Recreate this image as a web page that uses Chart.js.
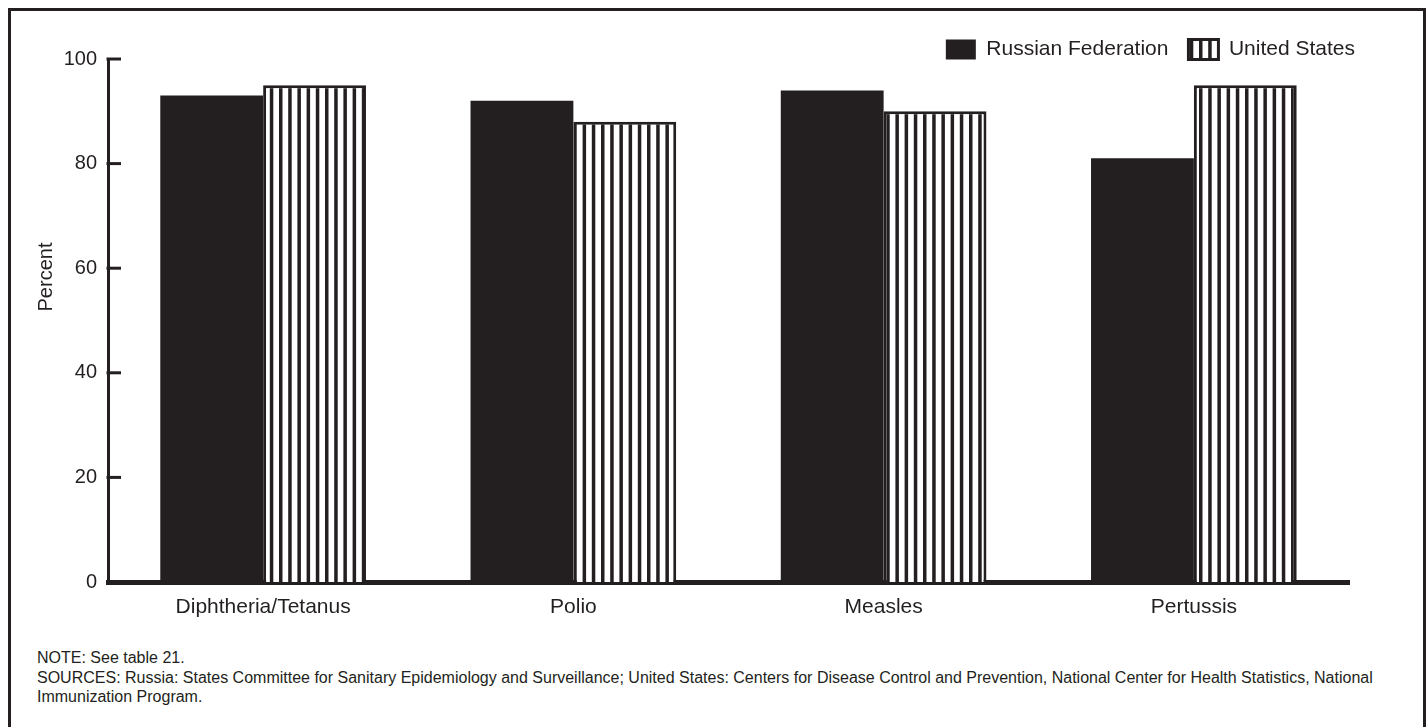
<!DOCTYPE html>
<html><head><meta charset="utf-8">
<script src="https://cdn.jsdelivr.net/npm/chart.js@4.4.0/dist/chart.umd.min.js"></script>
<style>
html,body{margin:0;padding:0;background:#fff;width:1427px;height:727px;overflow:hidden;}
#wrap{position:absolute;left:0;top:0;width:1427px;height:640px;}
#frame{position:absolute;left:8px;top:8px;width:1418px;height:800px;border:3px solid #231f20;box-sizing:border-box;pointer-events:none;}
#ytitle{position:absolute;left:45px;top:277px;transform:translate(-50%,-50%) rotate(-90deg);font:20px 'Liberation Sans',Arial,sans-serif;color:#231f20;white-space:nowrap;}
#notes{position:absolute;left:37px;top:648px;font:16px/19.5px 'Liberation Sans',Arial,sans-serif;color:#231f20;white-space:nowrap;}
</style></head><body>
<div id="wrap"><canvas id="c" width="1427" height="640"></canvas></div>
<div id="ytitle">Percent</div>
<div id="notes">NOTE: See table 21.<br>SOURCES: Russia: States Committee for Sanitary Epidemiology and Surveillance; United States: Centers for Disease Control and Prevention, National Center for Health Statistics, National<br>Immunization Program.</div>
<div id="frame"></div>
<script>
const categories = ['Diphtheria/Tetanus', 'Polio', 'Measles', 'Pertussis'];
const russiaValues = [93, 92, 94, 81];
const usValues = [95, 88, 90, 95];
const seriesNames = ['Russian Federation', 'United States'];
const yTicks = [0, 20, 40, 60, 80, 100];

const INK = '#231f20';

function stripePattern() {
  const p = document.createElement('canvas');
  p.width = 46; p.height = 8;
  const g = p.getContext('2d');
  g.fillStyle = '#fff'; g.fillRect(0, 0, 46, 8);
  g.fillStyle = INK;
  for (let i = 0; i < 5; i++) g.fillRect(i * 9.2 + 3, 0, 3.5, 8);
  return g.createPattern(p, 'repeat');
}

const innerTicks = {
  id: 'innerTicks',
  afterDatasetsDraw(chart) {
    const y = chart.scales.y, a = chart.chartArea, ctx = chart.ctx;
    ctx.save();
    ctx.strokeStyle = INK; ctx.lineWidth = 3;
    y.ticks.forEach(t => {
      if (t.value === 0) return;
      const py = y.getPixelForValue(t.value);
      ctx.beginPath(); ctx.moveTo(a.left - 1.5, py); ctx.lineTo(a.left + 13, py); ctx.stroke();
    });
    ctx.restore();
  }
};

const legendNudge = {
  id: 'legendNudge',
  afterLayout(chart) {
    const l = chart.legend;
    if (!l) return;
    l.top += 11; l.bottom += 11; l.left += 26; l.right += 26;
  }
};

Chart.defaults.font.family = "'Liberation Sans', Arial, Helvetica, sans-serif";
Chart.defaults.font.size = 21;
Chart.defaults.color = INK;

new Chart(document.getElementById('c'), {
  type: 'bar',
  data: {
    labels: categories,
    datasets: [
      { label: seriesNames[0], data: russiaValues, backgroundColor: INK, borderWidth: 0 },
      { label: seriesNames[1], data: usValues, backgroundColor: stripePattern(), borderColor: INK, borderWidth: 3 }
    ]
  },
  options: {
    responsive: false,
    animation: false,
    devicePixelRatio: 1,
    categoryPercentage: 0.663,
    barPercentage: 1,
    layout: { padding: { top: 8, right: 78, bottom: 0, left: 0 } },
    plugins: {
      legend: {
        position: 'top',
        align: 'end',
        labels: { boxWidth: 30, boxHeight: 20, padding: 20, font: { size: 21 }, color: INK }
      },
      tooltip: { enabled: false }
    },
    scales: {
      x: {
        grid: { display: false, drawTicks: false },
        border: { display: true, width: 5, color: INK },
        ticks: { padding: 13, color: INK, font: { size: 21 } },
        afterFit(s) { s.height = 58; }
      },
      y: {
        min: 0, max: 100,
        grid: { display: false, drawTicks: false },
        border: { display: true, width: 3, color: INK },
        ticks: { padding: 11, color: INK, font: { size: 20 } },
        afterBuildTicks(s) { s.ticks = yTicks.map(v => ({ value: v })); },
        afterFit(s) { s.width = 108; }
      }
    }
  },
  plugins: [innerTicks, legendNudge]
});
</script>
</body></html>
